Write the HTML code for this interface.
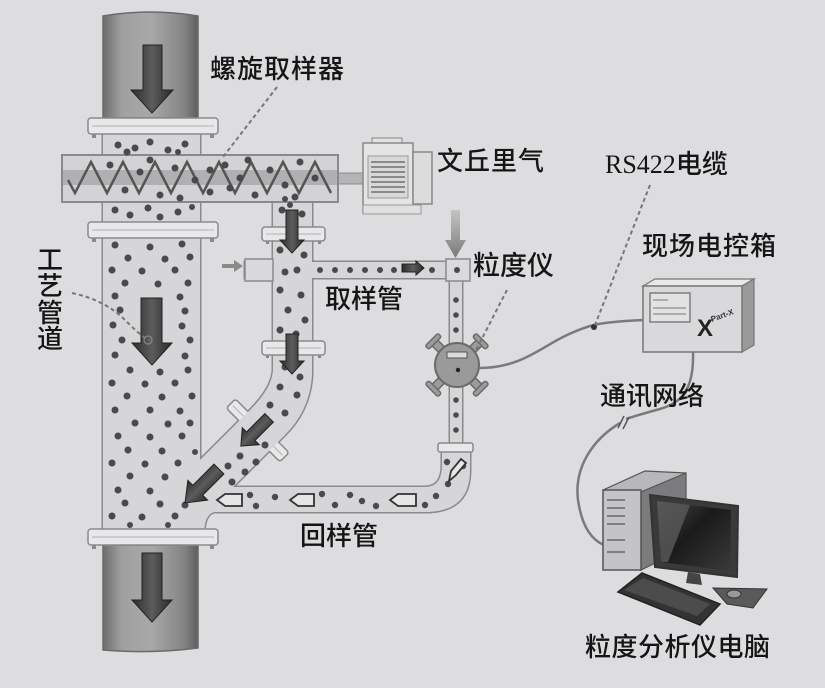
<!DOCTYPE html>
<html><head><meta charset="utf-8">
<style>
html,body{margin:0;padding:0;background:#dddde0;}
svg{display:block;}
text{font-family:"Liberation Sans","Noto Sans CJK SC",sans-serif;fill:#151515;}
</style></head><body>
<svg width="825" height="688" viewBox="0 0 825 688" xmlns="http://www.w3.org/2000/svg">
<defs>
<linearGradient id="cyl" x1="0" x2="1" y1="0" y2="0">
 <stop offset="0" stop-color="#6e6e6e"/><stop offset="0.2" stop-color="#a0a0a0"/><stop offset="0.5" stop-color="#a8a8a8"/><stop offset="0.85" stop-color="#858585"/><stop offset="1" stop-color="#5e5e5e"/>
</linearGradient>
<linearGradient id="arr" x1="0" x2="1" y1="0" y2="0">
 <stop offset="0" stop-color="#2e2e2e"/><stop offset="0.5" stop-color="#5c5c5c"/><stop offset="1" stop-color="#2a2a2a"/>
</linearGradient>
<linearGradient id="garr" x1="0" x2="0" y1="0" y2="1">
 <stop offset="0" stop-color="#c4c4c4"/><stop offset="1" stop-color="#7a7a7a"/>
</linearGradient>
<linearGradient id="scr" x1="0" x2="1" y1="0" y2="1">
 <stop offset="0" stop-color="#4a4a4a"/><stop offset="0.45" stop-color="#1a1a1a"/><stop offset="1" stop-color="#3a3a3a"/>
</linearGradient>
<g id="pipes">
 <rect x="103" y="130" width="97" height="405"/>
 <rect x="273" y="198" width="39" height="165"/>
 <path d="M273,355 L312,355 L312,375 Q310,410 285,435 L232,488 L200,488 L200,460 L250,410 Q272,388 273,370 Z"/>
 <rect x="195" y="487" width="235" height="25"/>
 <path d="M425,487 Q442,487 442,465 L442,448 L470,448 L470,470 Q470,512 425,512 Z"/>
 <rect x="245" y="262" width="220" height="16"/>
 <rect x="450" y="270" width="12" height="180"/>
 <path d="M198,500 L214,512 Q204,515 204,535 L198,535 Z"/>
</g>
</defs>

<!-- pipes -->
<use href="#pipes" fill="#8a8a8a" stroke="#8a8a8a" stroke-width="3"/>
<!-- diagonal flange (behind pipe fill) -->
<g fill="#e8e8ea" stroke="#8a8a8a" stroke-width="1.5">
<rect x="220" y="424" width="76" height="13" rx="3" transform="rotate(45 258 430)"/>
</g>
<g stroke="#b0b0b0" stroke-width="1"><line x1="223" y1="430.5" x2="293" y2="430.5" transform="rotate(45 258 430)"/></g>
<use href="#pipes" fill="#d6d6d8"/>

<!-- stub boxes on sample branch -->
<rect x="245" y="259" width="28" height="22" fill="#dadadc" stroke="#8a8a8a" stroke-width="1.5"/>
<rect x="446" y="259" width="24" height="22" fill="#dadadc" stroke="#8a8a8a" stroke-width="1.5"/>
<polygon points="222,264 234,264 234,260 243,266 234,272 234,268 222,268" fill="#8a8a8a"/>

<!-- top / bottom cylinders -->
<path d="M103,16 Q150,8 198,16 L198,118 L103,118 Z" fill="url(#cyl)" stroke="#6a6a6a" stroke-width="1.5"/>
<path d="M103,545 L198,545 L198,648 Q150,654 103,650 Z" fill="url(#cyl)" stroke="#6a6a6a" stroke-width="1.5"/>

<!-- screw sampler -->
<rect x="338" y="173" width="27" height="11" fill="#b4b4b6" stroke="#8a8a8a"/>
<rect x="62" y="155" width="276" height="47" fill="#d3d3d5" stroke="#8a8a8a" stroke-width="2"/>
<rect x="63" y="170" width="274" height="15" fill="#b0b0b2"/>
<polyline points="68,180 75,193 91,162 107,193 123,162 139,193 155,162 171,193 187,162 203,193 219,162 235,193 251,162 267,193 283,162 299,193 315,162 331,193" fill="none" stroke="#555" stroke-width="2.5" stroke-linejoin="miter"/>

<!-- motor -->
<rect x="372" y="138" width="30" height="7" fill="#e2e2e2" stroke="#888"/>
<rect x="363" y="143" width="50" height="70" fill="#e4e4e4" stroke="#888" stroke-width="1.5"/>
<rect x="368" y="156" width="40" height="42" fill="#d8d8d8" stroke="#999"/>
<g stroke="#8a8a8a" stroke-width="2">
<line x1="371" y1="162" x2="405" y2="162"/><line x1="371" y1="167" x2="405" y2="167"/><line x1="371" y1="172" x2="405" y2="172"/><line x1="371" y1="177" x2="405" y2="177"/><line x1="371" y1="182" x2="405" y2="182"/><line x1="371" y1="187" x2="405" y2="187"/><line x1="371" y1="192" x2="405" y2="192"/>
</g>
<rect x="413" y="152" width="19" height="52" fill="#dcdcdc" stroke="#888" stroke-width="1.5"/>
<rect x="363" y="205" width="58" height="9" fill="#e0e0e0" stroke="#999"/>

<!-- flanges -->
<g fill="#e8e8ea" stroke="#8a8a8a" stroke-width="1.5">
<rect x="88" y="118" width="130" height="16" rx="3"/>
<rect x="88" y="222" width="130" height="16" rx="3"/>
<rect x="88" y="529" width="130" height="16" rx="3"/>
<rect x="262" y="227" width="63" height="14" rx="3"/>
<rect x="262" y="341" width="63" height="14" rx="3"/>
<rect x="438" y="443" width="35" height="9" rx="2"/>
</g>
<g stroke="#b0b0b0" stroke-width="1">
<line x1="92" y1="126" x2="214" y2="126"/><line x1="92" y1="230" x2="214" y2="230"/><line x1="92" y1="537" x2="214" y2="537"/>
<line x1="266" y1="234" x2="321" y2="234"/><line x1="266" y1="348" x2="321" y2="348"/>
</g>
<g fill="#8a8a8a">
<rect x="92" y="134" width="4" height="4"/><rect x="210" y="134" width="4" height="4"/>
<rect x="92" y="238" width="4" height="4"/><rect x="210" y="238" width="4" height="4"/>
<rect x="92" y="545" width="4" height="4"/><rect x="210" y="545" width="4" height="4"/>
<rect x="266" y="241" width="3" height="3"/><rect x="318" y="241" width="3" height="3"/>
<rect x="266" y="355" width="3" height="3"/><rect x="318" y="355" width="3" height="3"/>
</g>

<!-- particles -->
<g fill="#4a4a4c">
<circle cx="118" cy="145" r="3.5"/><circle cx="135" cy="148" r="3.5"/><circle cx="150" cy="142" r="3.5"/><circle cx="168" cy="150" r="3.5"/><circle cx="185" cy="144" r="3.5"/><circle cx="127" cy="152" r="3.5"/><circle cx="178" cy="152" r="3"/>
<circle cx="115" cy="210" r="3.5"/><circle cx="130" cy="215" r="3.5"/><circle cx="148" cy="208" r="3.5"/><circle cx="160" cy="217" r="3.5"/><circle cx="178" cy="212" r="3.5"/><circle cx="192" cy="207" r="3"/>
<circle cx="115" cy="245" r="3.5"/><circle cx="150" cy="247" r="3.5"/><circle cx="182" cy="244" r="3.5"/>
<circle cx="128" cy="258" r="3.5"/><circle cx="165" cy="259" r="3.5"/><circle cx="190" cy="257" r="3.5"/>
<circle cx="112" cy="270" r="3.5"/><circle cx="142" cy="271" r="3.5"/><circle cx="175" cy="270" r="3.5"/>
<circle cx="125" cy="283" r="3.5"/><circle cx="158" cy="284" r="3.5"/><circle cx="188" cy="283" r="3.5"/>
<circle cx="115" cy="296" r="3.5"/><circle cx="180" cy="297" r="3.5"/>
<circle cx="120" cy="310" r="3.5"/><circle cx="185" cy="311" r="3.5"/>
<circle cx="113" cy="325" r="3.5"/><circle cx="182" cy="326" r="3.5"/>
<circle cx="122" cy="340" r="3.5"/><circle cx="190" cy="340" r="3.5"/>
<circle cx="115" cy="355" r="3.5"/><circle cx="185" cy="356" r="3.5"/>
<circle cx="130" cy="370" r="3.5"/><circle cx="160" cy="372" r="3.5"/><circle cx="188" cy="370" r="3.5"/>
<circle cx="112" cy="383" r="3.5"/><circle cx="145" cy="384" r="3.5"/><circle cx="175" cy="383" r="3.5"/>
<circle cx="127" cy="396" r="3.5"/><circle cx="162" cy="397" r="3.5"/><circle cx="192" cy="396" r="3.5"/>
<circle cx="115" cy="410" r="3.5"/><circle cx="150" cy="410" r="3.5"/><circle cx="180" cy="411" r="3.5"/>
<circle cx="135" cy="423" r="3.5"/><circle cx="168" cy="424" r="3.5"/><circle cx="190" cy="423" r="3.5"/>
<circle cx="118" cy="436" r="3.5"/><circle cx="150" cy="437" r="3.5"/><circle cx="182" cy="436" r="3.5"/>
<circle cx="128" cy="450" r="3.5"/><circle cx="162" cy="451" r="3.5"/><circle cx="195" cy="452" r="3"/>
<circle cx="112" cy="463" r="3.5"/><circle cx="145" cy="464" r="3.5"/><circle cx="178" cy="463" r="3.5"/>
<circle cx="130" cy="476" r="3.5"/><circle cx="165" cy="477" r="3.5"/>
<circle cx="118" cy="490" r="3.5"/><circle cx="150" cy="491" r="3.5"/>
<circle cx="125" cy="503" r="3.5"/><circle cx="160" cy="504" r="3.5"/><circle cx="185" cy="505" r="3.5"/>
<circle cx="112" cy="516" r="3.5"/><circle cx="142" cy="517" r="3.5"/><circle cx="175" cy="516" r="3.5"/>
<circle cx="130" cy="525" r="3"/><circle cx="168" cy="525" r="3"/>
<!-- screw -->
<circle cx="110" cy="165" r="3.5"/><circle cx="125" cy="190" r="3.5"/><circle cx="140" cy="172" r="3.5"/><circle cx="160" cy="195" r="3.5"/><circle cx="175" cy="168" r="3.5"/><circle cx="195" cy="180" r="3.5"/><circle cx="210" cy="192" r="3.5"/><circle cx="225" cy="165" r="3.5"/><circle cx="240" cy="178" r="3.5"/><circle cx="255" cy="195" r="3.5"/><circle cx="270" cy="170" r="3.5"/><circle cx="285" cy="185" r="3.5"/><circle cx="300" cy="162" r="3.5"/><circle cx="295" cy="197" r="3.5"/><circle cx="315" cy="178" r="3.5"/><circle cx="230" cy="188" r="3.5"/><circle cx="180" cy="198" r="3.5"/><circle cx="150" cy="160" r="3.5"/><circle cx="248" cy="160" r="3.5"/><circle cx="210" cy="170" r="3.5"/><circle cx="285" cy="199" r="3"/>
<!-- sampling pipe -->
<circle cx="282" cy="210" r="3.5"/><circle cx="302" cy="214" r="3.5"/><circle cx="290" cy="205" r="3"/><circle cx="280" cy="250" r="3.5"/><circle cx="304" cy="255" r="3.5"/><circle cx="285" cy="272" r="3.5"/><circle cx="297" cy="270" r="3.5"/><circle cx="280" cy="290" r="3.5"/><circle cx="301" cy="295" r="3.5"/><circle cx="288" cy="310" r="3.5"/><circle cx="305" cy="320" r="3.5"/><circle cx="280" cy="330" r="3.5"/><circle cx="296" cy="334" r="3.5"/>
<!-- branch -->
<circle cx="320" cy="270" r="3"/><circle cx="335" cy="270" r="3"/><circle cx="350" cy="270" r="3"/><circle cx="365" cy="270" r="3"/><circle cx="380" cy="270" r="3"/><circle cx="394" cy="270" r="3"/><circle cx="432" cy="270" r="3"/><circle cx="457" cy="270" r="3"/>
<!-- thin vertical -->
<circle cx="456" cy="300" r="2.8"/><circle cx="456" cy="315" r="2.8"/><circle cx="456" cy="330" r="2.8"/><circle cx="456" cy="400" r="2.8"/><circle cx="456" cy="415" r="2.8"/><circle cx="456" cy="430" r="2.8"/>
<!-- diagonal -->
<circle cx="285" cy="367" r="3.5"/><circle cx="300" cy="377" r="3.5"/><circle cx="280" cy="387" r="3.5"/><circle cx="297" cy="395" r="3.5"/><circle cx="270" cy="405" r="3.5"/><circle cx="285" cy="413" r="3.5"/><circle cx="265" cy="445" r="3.5"/><circle cx="240" cy="456" r="3.5"/><circle cx="256" cy="462" r="3.5"/><circle cx="228" cy="466" r="3.5"/><circle cx="245" cy="472" r="3.5"/><circle cx="232" cy="482" r="3.5"/>
<!-- return -->
<circle cx="250" cy="495" r="3.2"/><circle cx="256" cy="506" r="3.2"/><circle cx="275" cy="497" r="3.2"/><circle cx="322" cy="494" r="3.2"/><circle cx="335" cy="505" r="3.2"/><circle cx="350" cy="495" r="3.2"/><circle cx="362" cy="501" r="3.2"/><circle cx="376" cy="506" r="3.2"/><circle cx="425" cy="505" r="3.2"/><circle cx="436" cy="496" r="3.2"/><circle cx="448" cy="484" r="3.2"/><circle cx="463" cy="466" r="3.2"/><circle cx="447" cy="462" r="3.2"/>
</g>

<!-- dark arrows -->
<g fill="url(#arr)" stroke="#222" stroke-width="1">
<polygon points="143,45 162,45 162,90 173,90 152,113 131,90 143,90"/>
<polygon points="142,553 162,553 162,600 172,600 152,622 132,600 142,600"/>
<polygon points="141,298 162,298 162,343 172,343 152,365 132,343 141,343"/>
<polygon points="286,210 298,210 298,240 304,240 292,253 280,240 286,240"/>
<polygon points="286,334 298,334 298,361 304,361 292,374 280,361 286,361"/>
<polygon points="249,412 261,412 261,438 267,438 255,452 243,438 249,438" transform="rotate(45 255 432)"/>
<polygon points="195,462 209,462 209,492 216,492 202,510 188,492 195,492" transform="rotate(45 202 486)"/>
<polygon points="402,264 416,264 416,261 424,268 416,275 416,272 402,272"/>
</g>
<!-- outlined return arrows -->
<g fill="#e6e6e6" stroke="#333" stroke-width="1.8">
<polygon points="217,500 225,494 242,494 242,506 225,506"/>
<polygon points="290,500 298,494 314,494 314,506 298,506"/>
<polygon points="390,500 398,494 416,494 416,506 398,506"/>
<polygon points="449,481 451,471 461,459 466,463 456,475" />
</g>
<circle cx="148" cy="340" r="4" fill="none" stroke="#888" stroke-width="1.2"/>

<!-- venturi air arrow -->
<polygon points="451,210 460,210 460,240 466,240 455.5,258 445,240 451,240" fill="url(#garr)"/>

<!-- meter -->
<g transform="translate(457,365)">
 <g fill="#9c9c9c" stroke="#6a6a6a" stroke-width="1.5">
  <rect x="-4" y="-34" width="8" height="16" rx="3" transform="rotate(45)"/>
  <rect x="-4" y="-34" width="8" height="16" rx="3" transform="rotate(-45)"/>
  <rect x="-4" y="-34" width="8" height="16" rx="3" transform="rotate(135)"/>
  <rect x="-4" y="-34" width="8" height="16" rx="3" transform="rotate(-135)"/>
  <rect x="-9" y="-36" width="18" height="5" rx="2" transform="rotate(45)"/>
  <rect x="-9" y="-36" width="18" height="5" rx="2" transform="rotate(-45)"/>
  <rect x="-9" y="-36" width="18" height="5" rx="2" transform="rotate(135)"/>
  <rect x="-9" y="-36" width="18" height="5" rx="2" transform="rotate(-135)"/>
 </g>
 <circle r="22" fill="#9a9a9a" stroke="#6a6a6a" stroke-width="2"/>
 <rect x="-10" y="-13" width="20" height="6" fill="#dcdcdc" stroke="#555"/>
 <circle cx="1" cy="5" r="2.2" fill="#222"/>
</g>

<!-- cables -->
<g fill="none" stroke="#7a7a7a" stroke-width="2.5">
<path d="M479,368 C520,368 540,348 565,336 S600,322 643,320"/>
<path d="M693,352 C694,385 685,402 660,409 C645,413 635,416 626,419"/>
<path d="M620,423 C592,440 574,468 578,500 C582,528 592,540 604,545"/>
</g>
<circle cx="594" cy="327" r="3" fill="#333"/>
<g stroke="#555" stroke-width="1.5">
<line x1="618" y1="428" x2="624" y2="416"/><line x1="623" y1="429" x2="629" y2="417"/>
</g>

<!-- dashed leaders -->
<g fill="none" stroke="#777" stroke-width="2" stroke-dasharray="4 3">
<line x1="277" y1="87" x2="223" y2="157"/>
<path d="M72,293 Q105,300 125,320 T150,340"/>
<line x1="507" y1="290" x2="475" y2="352"/>
<line x1="650" y1="185" x2="595" y2="325"/>
</g>

<!-- control box -->
<polygon points="643,286 655,279 754,279 742,286" fill="#e8e8e8" stroke="#777" stroke-width="1.2"/>
<polygon points="742,286 754,279 754,345 742,352" fill="#9a9a9a" stroke="#777" stroke-width="1.2"/>
<rect x="643" y="286" width="99" height="66" fill="#d9d9db" stroke="#777" stroke-width="1.5"/>
<rect x="650" y="293" width="40" height="29" fill="#e2e2e2" stroke="#666" stroke-width="1.2"/>
<g stroke="#777" stroke-width="1"><line x1="653" y1="300" x2="668" y2="300"/><line x1="653" y1="308" x2="686" y2="308"/><line x1="653" y1="314" x2="686" y2="314"/></g>
<text x="697" y="336" style="font-size:24px;font-weight:bold;fill:#222">X</text>
<text x="712" y="322" transform="rotate(-20 712 322)" style="font-size:8px;font-weight:bold;fill:#333">Part-X</text>

<!-- computer -->
<polygon points="603,490 645,471 686,473 641,492" fill="#b8b8ba" stroke="#555" stroke-width="1.2"/>
<polygon points="641,492 686,473 686,548 641,570" fill="#7c7c7e" stroke="#555" stroke-width="1.2"/>
<rect x="603" y="490" width="38" height="80" fill="#c4c4c6" stroke="#555" stroke-width="1.5"/>
<g stroke="#666" stroke-width="1.5"><line x1="607" y1="500" x2="625" y2="500"/><line x1="607" y1="508" x2="625" y2="508"/><line x1="607" y1="516" x2="625" y2="516"/><line x1="607" y1="524" x2="625" y2="524"/><line x1="607" y1="540" x2="625" y2="540"/><line x1="607" y1="552" x2="625" y2="552"/></g>
<polygon points="650,495 738,506 737,577 655,567" fill="#3a3a3a" stroke="#333" stroke-width="2"/>
<polygon points="657,501 731,510 730,571 661,562" fill="url(#scr)"/>
<polygon points="657,501 690,505 668,562 661,562" fill="#5a5a5a" opacity="0.8"/>
<polygon points="688,572 700,574 702,585 686,583" fill="#444"/>
<polygon points="618,592 642,573 720,604 700,625" fill="#333" stroke="#222" stroke-width="1.5"/>
<polygon points="624,590 643,578 710,604 697,616" fill="#4c4c4c"/>
<polygon points="713,588 767,589 753,608 727,604" fill="#5a5a5a" stroke="#333" stroke-width="1"/>
<ellipse cx="734" cy="594" rx="7" ry="4" fill="#999" stroke="#333" stroke-width="1"/>

<!-- labels -->
<g style="font-size:26px;font-weight:500;">
<text x="210" y="78" letter-spacing="1">螺旋取样器</text>
<text x="437" y="170" letter-spacing="1">文丘里气</text>
<text x="605" y="173"><tspan style="font-family:'Liberation Serif',serif;font-weight:normal">RS422</tspan>电缆</text>
<text x="473" y="275" style="font-size:27px">粒度仪</text>
<text x="642" y="255" letter-spacing="1">现场电控箱</text>
<text x="600" y="405">通讯网络</text>
<text x="325" y="308">取样管</text>
<text x="300" y="545">回样管</text>
<text x="37" y="269">工</text>
<text x="37" y="295">艺</text>
<text x="37" y="322">管</text>
<text x="37" y="348">道</text>
<text x="585" y="656" letter-spacing="0.5">粒度分析仪电脑</text>
</g>
</svg>
</body></html>
